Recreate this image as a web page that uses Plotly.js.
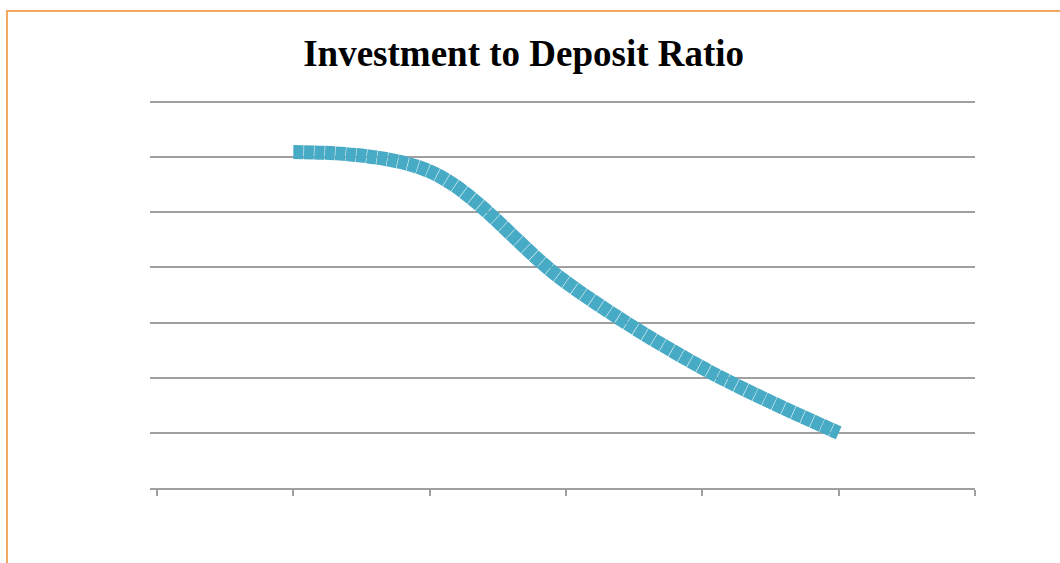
<!DOCTYPE html>
<html>
<head>
<meta charset="utf-8">
<script src="https://cdn.plot.ly/plotly-3.0.1.min.js"></script>
<style>
  html, body { margin: 0; padding: 0; background: #ffffff; }
  #frame {
    position: absolute; left: 6px; top: 10px; right: 0; bottom: 0;
    border-left: 2px solid #f4a862; border-top: 2px solid #f4a862;
  }
  #chart { position: absolute; left: 0; top: 0; width: 1060px; height: 563px; }
</style>
</head>
<body>
<div id="frame"></div>
<div id="chart"></div>
<script>
// Category slots along the horizontal axis (ticks 0..6) and the plotted periods
const tickSlots = [0, 1, 2, 3, 4, 5, 6];
const periods = [1, 2, 3, 4, 5];
// Investment to deposit ratio (%) for each period
const ratio = [60.9, 57.4, 37.3, 21.8, 10.0];
// Horizontal gridline levels
const gridLevels = [10, 20, 30, 40, 50, 60, 70];

const gridGrey = '#a0a0a0';

const trace = {
  x: periods,
  y: ratio,
  type: 'scatter',
  mode: 'lines',
  line: { color: '#48abc5', width: 14, shape: 'spline', smoothing: 1, dash: '10px,0.5px' },
  hoverinfo: 'skip',
  showlegend: false
};

const layout = {
  width: 1060,
  height: 563,
  margin: { l: 150, r: 85, t: 98, b: 75 },
  paper_bgcolor: 'rgba(0,0,0,0)',
  plot_bgcolor: 'rgba(0,0,0,0)',
  title: {
    text: '<b>Investment to Deposit Ratio</b>',
    font: { family: 'Liberation Serif, Times New Roman, serif', size: 37, color: '#000000' },
    xref: 'container', x: 0.494, xanchor: 'center',
    yref: 'container', y: 1 - 53 / 563, yanchor: 'middle'
  },
  xaxis: {
    range: [-7 / 136.33, 6],
    tickvals: tickSlots,
    showticklabels: false,
    ticks: 'outside', ticklen: 6, tickwidth: 2, tickcolor: gridGrey,
    showline: true, linecolor: gridGrey, linewidth: 2,
    showgrid: false, zeroline: false, fixedrange: true
  },
  yaxis: {
    range: [0, 70.7],
    tickvals: gridLevels,
    showticklabels: false,
    ticks: '',
    showline: false,
    showgrid: true, gridcolor: gridGrey, gridwidth: 2,
    zeroline: false, fixedrange: true
  }
};

Plotly.newPlot('chart', [trace], layout, { staticPlot: true, displayModeBar: false });
</script>
</body>
</html>
